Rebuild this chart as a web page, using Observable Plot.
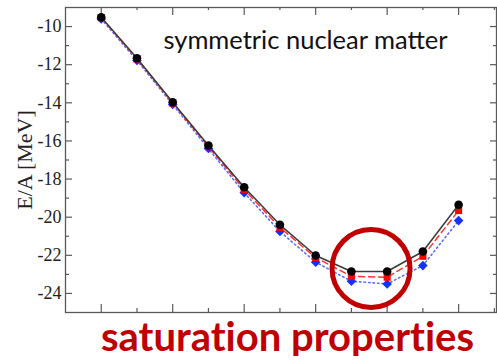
<!DOCTYPE html>
<html>
<head>
<meta charset="utf-8">
<script src="https://cdn.jsdelivr.net/npm/d3@7"></script>
<script src="https://cdn.jsdelivr.net/npm/@observablehq/plot@0.6"></script>
<style>
  html, body { margin: 0; padding: 0; background: #fff; }
  #chart svg { display: block; }
  #caption {
    font-family: Lato, "Open Sans", sans-serif;
    font-weight: 700;
    font-size: 40px;
    line-height: 1;
    color: #c00000;
    margin-top: -2px;
    padding-left: 101px;
    white-space: nowrap;
    font-variant-ligatures: none;
    font-feature-settings: "liga" 0, "clig" 0;
  }
</style>
</head>
<body>
<div id="chart"></div>
<div id="caption">saturation properties</div>
<script>
// density points (grid index along x; axis labels are not visible in the reference)
const rho = [1, 2, 3, 4, 5, 6, 7, 8, 9, 10, 11];
// energy per nucleon, MeV
const eBlack = [-9.51, -11.66, -13.97, -16.24, -18.43, -20.40, -22.01, -22.85, -22.85, -21.80, -19.35];
const eRed   = [-9.53, -11.70, -14.01, -16.30, -18.55, -20.54, -22.12, -23.10, -23.15, -22.05, -19.65];
const eBlue  = [-9.60, -11.78, -14.09, -16.40, -18.72, -20.75, -22.36, -23.36, -23.50, -22.54, -20.18];

const yMajor = [-24, -22, -20, -18, -16, -14, -12, -10];
const yMinor = [-23, -21, -19, -17, -15, -13, -11];
const xMajor = [1, 3, 5, 7, 9, 11];
const xMinor = [2, 4, 6, 8, 10, 12];

const title = "symmetric nuclear matter";
const yLabel = "E/A [MeV]";
// annotation circle center (data coordinates)
const highlight = [{rho: 8.55, e: -22.69}];

const series = [
  {name: "blue", values: eBlue},
  {name: "red", values: eRed},
  {name: "black", values: eBlack}
];
const rows = series.flatMap(s => s.values.map((v, i) => ({series: s.name, rho: rho[i], e: v})));
const sel = name => rows.filter(r => r.series === name);

const W = 497, H = 318;
const mL = 65, mR = 1, mT = 7, mB = 6;
const fw = W - mL - mR, fh = H - mT - mB;
const axisColor = "#5a5a5a";
const serif = "'Liberation Serif', 'DejaVu Serif', serif";

const plot = Plot.plot({
  width: W,
  height: H,
  marginLeft: mL,
  marginRight: mR,
  marginTop: mT,
  marginBottom: mB,
  x: {domain: [0, 12.06], axis: null},
  y: {domain: [-25, -9], axis: null},
  style: {background: "#fff"},
  marks: [
    Plot.frame({stroke: axisColor, strokeWidth: 1.3}),
    // bottom ticks (inward)
    Plot.ruleX(xMajor, {insetTop: fh - 8, stroke: axisColor, strokeWidth: 1.2}),
    Plot.ruleX(xMinor, {insetTop: fh - 4, stroke: axisColor, strokeWidth: 1.2}),
    // top ticks (inward)
    Plot.ruleX(xMajor, {insetBottom: fh - 8, stroke: axisColor, strokeWidth: 1.2}),
    Plot.ruleX(xMinor, {insetBottom: fh - 3, stroke: axisColor, strokeWidth: 1.2}),
    // left ticks
    Plot.ruleY(yMajor, {insetRight: fw - 7, stroke: axisColor, strokeWidth: 1.2}),
    Plot.ruleY(yMinor, {insetRight: fw - 4, stroke: axisColor, strokeWidth: 1.2}),
    // right ticks
    Plot.ruleY(yMajor, {insetLeft: fw - 6, stroke: axisColor, strokeWidth: 1.2}),
    Plot.ruleY(yMinor, {insetLeft: fw - 3, stroke: axisColor, strokeWidth: 1.2}),
    Plot.axisY({
      ticks: yMajor,
      tickSize: 0,
      tickPadding: 4,
      tickFormat: d => String(d),
      fontFamily: serif,
      fontSize: 18,
      fill: "#222",
      label: null
    }),
    Plot.text([yLabel], {
      frameAnchor: "left",
      rotate: -90,
      dx: -41,
      dy: 0,
      textAnchor: "middle",
      lineAnchor: "middle",
      fontFamily: serif,
      fontSize: 22,
      fill: "#222"
    }),
    Plot.text([title], {
      frameAnchor: "top",
      dx: 24.5,
      dy: 23,
      textAnchor: "middle",
      lineAnchor: "top",
      fontFamily: "Lato, 'Open Sans', sans-serif",
      fontSize: 25.5,
      fill: "#111"
    }),
    // blue dotted with diamonds
    Plot.line(sel("blue"), {x: "rho", y: "e", stroke: "#5a6cff", strokeWidth: 1.6, strokeDasharray: "1.5,3", strokeLinecap: "round"}),
    Plot.dot(sel("blue"), {x: "rho", y: "e", symbol: "diamond2", r: 4.3, fill: "#1530ff", stroke: "none"}),
    // red dashed with squares
    Plot.line(sel("red"), {x: "rho", y: "e", stroke: "#ff3030", strokeWidth: 1.5, strokeDasharray: "6,4"}),
    Plot.dot(sel("red"), {x: "rho", y: "e", symbol: "square", r: 4, fill: "#ff0000", stroke: "none"}),
    // black solid with circles
    Plot.line(sel("black"), {x: "rho", y: "e", stroke: "#3a3a3a", strokeWidth: 1.5}),
    Plot.dot(sel("black"), {x: "rho", y: "e", symbol: "circle", r: 4.3, fill: "#000", stroke: "none"}),
    // highlight circle
    Plot.dot(highlight, {x: "rho", y: "e", r: 39, fill: "none", stroke: "#c00000", strokeWidth: 5})
  ]
});
document.getElementById("chart").append(plot);
</script>
</body>
</html>
